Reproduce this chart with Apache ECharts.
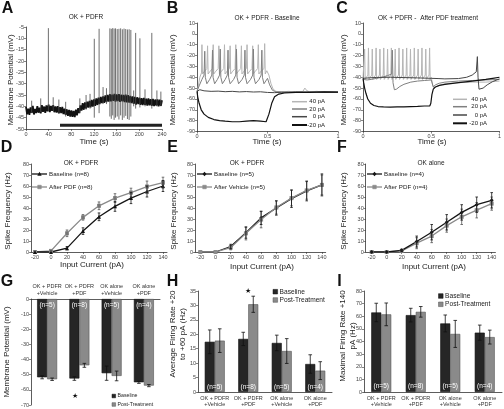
<!DOCTYPE html>
<html><head><meta charset="utf-8">
<script src="https://cdn.jsdelivr.net/npm/echarts@6/dist/echarts.min.js"></script>
<style>html,body{margin:0;padding:0;background:#fff}#c{width:504px;height:409px}</style>
</head><body><div id="c"></div>
<script>
// ---------------- DATA ----------------
// Panel A: membrane potential trace (mV), one sample every 2 s from 0 to 240 s
const aStep = 2;
const aTrace = [-40.2,-43.5,-41.0,-43.8,-40.5,-42.9,-39.8,-43.6,-41.2,-43.0,
 -39.9,-42.8,-40.6,-43.1,-39.5,-42.4,-40.1,-42.9,-39.6,-42.2,
 -39.3,-42.5,-39.8,-42.0,-39.5,-42.6,-40.0,-42.8,-39.9,-43.1,
 -40.4,-43.0,-40.2,-43.4,-41.0,-43.8,-41.3,-44.2,-41.6,-44.5,
 -41.8,-44.6,-42.0,-44.8,-41.5,-44.0,-40.8,-43.0,-39.6,-41.9,
 -38.6,-41.5,-38.3,-41.0,-37.9,-40.6,-37.6,-40.4,-37.2,-40.1,
 -36.9,-39.8,-36.5,-39.4,-36.2,-39.0,-35.8,-38.6,-35.6,-38.5,
 -35.2,-38.1,-34.9,-37.9,-34.6,-37.8,-34.8,-37.6,-34.5,-37.9,
 -34.7,-37.7,-34.6,-38.0,-34.9,-37.8,-35.0,-38.1,-34.8,-38.3,
 -35.1,-38.4,-35.4,-38.6,-35.6,-38.9,-35.8,-39.2,-36.0,-39.0,
 -36.2,-39.3,-36.4,-39.5,-36.3,-39.4,-36.6,-39.7,-36.5,-39.6,
 -36.8,-39.8,-36.7,-39.9,-37.0,-39.7,-36.9,-40.0,-37.1,-39.8,-37.3];
// spikes: [time s, peak mV, trough mV]
const aSpikes = [[39.5,-5.5,-42],[120.5,-10.2,-45],[129,-5.8,-43],[148,-5.6,-44.5],[150.5,-5.8,-45.5],
 [153,-5.5,-44],[155.5,-5.7,-46],[158,-5.6,-45],[161,-5.9,-44.5],[164,-5.8,-45.8],[167,-5.6,-44],
 [170,-6.0,-46],[173,-5.7,-45],[176,-5.9,-44.2],[179,-6.1,-45.6],[182,-6.0,-46],[185,-6.3,-44.5],
 [193.5,-7.6,-41],[201,-10,-40.5],[222,-7.6,-41],
 [10,-37.5,-43],[26,-36.5,-42.5],[48,-36,-42],[58,-37,-43],[70,-38,-44.5],[95,-36.5,-43],
 [106,-35,-41.5],[113,-34.5,-41],[136,-31.5,-39],[142,-32,-39],[190,-33,-40],[210,-32.5,-40],
 [231,-33,-40],[238,-33.5,-40]];
const drugBar = [60, 240];
const drugLevel = -48.4;

// Panel B traces [time s, mV]
const b40 = [[0,-53],[0.008,-49],[0.02,-40],[0.032,-36],[0.035,-10],[0.039,-37],[0.05,-35],[0.07,-32],[0.075,-11],[0.079,-37],[0.09,-35],[0.11,-32],[0.115,-10],[0.119,-37],[0.13,-35],[0.15,-32],[0.155,-11],[0.159,-37],[0.17,-35],[0.19,-32],[0.195,-10],[0.199,-37],[0.21,-35],[0.23,-32],[0.235,-11],[0.239,-37],[0.25,-35],[0.27,-32],[0.275,-10],[0.279,-37],[0.29,-35],[0.31,-32],[0.315,-11],[0.319,-37],[0.33,-35],[0.35,-32],[0.355,-10],[0.359,-37],[0.37,-35],[0.39,-32],[0.395,-11],[0.399,-37],[0.41,-35],[0.43,-32],[0.435,-10],[0.439,-37],[0.45,-35],[0.475,-32],[0.48,-9],[0.484,-37],[0.495,-34],[0.5,-33],[0.51,-38],[0.525,-46],[0.54,-51],[0.56,-53],[0.6,-53.5],[0.65,-53],[0.7,-53.6],[0.75,-53.2],[0.765,-50],[0.78,-52.5],[0.8,-53.5],[0.85,-53],[0.9,-53.6],[0.95,-53.2],[1,-53.5]];
const b20 = [[0,-53],[0.015,-48],[0.035,-42],[0.05,-38],[0.055,-16],[0.059,-40],[0.07,-46],[0.09,-42],[0.105,-38],[0.11,-15],[0.114,-40],[0.125,-46],[0.145,-42],[0.16,-38],[0.165,-14],[0.169,-40],[0.18,-46],[0.2,-42],[0.215,-38],[0.22,-15],[0.224,-40],[0.235,-46],[0.26,-42],[0.275,-38],[0.28,-14],[0.284,-40],[0.295,-46],[0.32,-42],[0.335,-38],[0.34,-15],[0.344,-40],[0.355,-46],[0.38,-42],[0.395,-38],[0.4,-14],[0.404,-40],[0.415,-46],[0.44,-42],[0.455,-38],[0.46,-15],[0.464,-40],[0.475,-46],[0.5,-41],[0.515,-47],[0.535,-52],[0.56,-53.5],[0.62,-53.8],[0.7,-53.2],[0.8,-53.8],[0.9,-53.4],[1,-53.7]];
const b0 = [[0,-53],[0.02,-51.5],[0.05,-52.5],[0.1,-53],[0.15,-52.8],[0.2,-53.3],[0.25,-53],[0.3,-53.5],[0.35,-53.2],[0.4,-53.6],[0.45,-53.4],[0.5,-54],[0.55,-54.2],[0.6,-53.8],[0.7,-54],[0.8,-53.6],[0.9,-54],[1,-53.8]];
const bNeg20 = [[0,-53],[0.005,-58],[0.015,-64],[0.03,-70],[0.05,-74],[0.08,-77],[0.12,-79],[0.16,-80],[0.2,-80.5],[0.25,-81],[0.3,-81],[0.35,-80.5],[0.4,-80],[0.45,-80.5],[0.49,-81],[0.5,-80],[0.51,-74],[0.53,-64],[0.55,-58],[0.58,-55.5],[0.62,-54.5],[0.7,-54],[0.8,-54],[0.9,-53.5],[1,-53.8]];

// Panel C traces [time s, mV]
const c40 = [[0,-41],[0.008,-40],[0.012,-14],[0.016,-42],[0.025,-40],[0.036,-38],[0.04,-13],[0.044,-42],[0.053,-40],[0.064,-38],[0.068,-14],[0.072,-42],[0.081,-40],[0.092,-38],[0.096,-13],[0.1,-42],[0.109,-40],[0.12,-38],[0.124,-14],[0.128,-42],[0.137,-40],[0.148,-38],[0.152,-13],[0.156,-42],[0.165,-40],[0.176,-38],[0.18,-14],[0.184,-42],[0.193,-40],[0.204,-38],[0.208,-13],[0.212,-42],[0.221,-40],[0.232,-38],[0.236,-14],[0.24,-42],[0.249,-40],[0.26,-38],[0.264,-13],[0.268,-42],[0.277,-40],[0.288,-38],[0.292,-14],[0.296,-42],[0.305,-40],[0.316,-38],[0.32,-13],[0.324,-42],[0.333,-40],[0.344,-38],[0.348,-14],[0.352,-42],[0.361,-40],[0.372,-38],[0.376,-13],[0.38,-42],[0.389,-40],[0.4,-38],[0.404,-14],[0.408,-42],[0.417,-40],[0.428,-38],[0.432,-13],[0.436,-42],[0.445,-40],[0.456,-38],[0.46,-14],[0.464,-42],[0.473,-40],[0.484,-38],[0.488,-13],[0.492,-42],[0.5,-40],[0.51,-47],[0.52,-50],[0.54,-48.5],[0.57,-47],[0.6,-46],[0.7,-45],[0.8,-44.5],[0.9,-44.5],[1,-43.5]];
const c20 = [[0,-42],[0.03,-42.5],[0.06,-42],[0.1,-41],[0.14,-40],[0.18,-38.5],[0.21,-37],[0.215,-15],[0.22,-45],[0.23,-51.5],[0.245,-51],[0.27,-48.5],[0.3,-46.5],[0.35,-44.5],[0.4,-43.5],[0.45,-43],[0.5,-42.5],[0.515,-49],[0.53,-47],[0.56,-45.5],[0.6,-44.5],[0.7,-43.5],[0.8,-43],[0.9,-42.5],[1,-42]];
const c0 = [[0,-41],[0.05,-40.5],[0.1,-40.2],[0.2,-40],[0.3,-40.3],[0.4,-40.6],[0.5,-41],[0.55,-41.2],[0.6,-41.5],[0.7,-41.2],[0.76,-40],[0.8,-38],[0.83,-35],[0.838,-21],[0.843,-40],[0.85,-51],[0.86,-52],[0.88,-50],[0.91,-47],[0.95,-44],[1,-41.5]];
const cNeg20 = [[0,-41],[0.005,-45],[0.012,-50],[0.022,-55],[0.035,-60],[0.055,-64],[0.08,-66],[0.11,-67],[0.15,-67.3],[0.2,-67.5],[0.25,-67.3],[0.3,-67.3],[0.35,-67],[0.4,-66.8],[0.45,-66.5],[0.49,-66.3],[0.497,-64],[0.505,-56],[0.515,-51],[0.53,-49],[0.56,-47.5],[0.6,-46.5],[0.7,-45],[0.8,-43.5],[0.9,-42],[0.95,-41],[1,-40]];
const traceLabels = ['40 pA','20 pA','0 pA','-20 pA'];

// Panels D-F: spike frequency (Hz) vs input current (pA)
const currents = [-20,0,20,40,60,80,100,120,140];
const dBase = [0,0,3.5,19,32,41.5,49,55,60];      const dBaseErr = [0,0,1.5,3,3.5,4.5,5,5,5];
const dPdf  = [0,1,17,31.5,42,49,54,59.5,63];     const dPdfErr  = [0,0.5,3,2.5,3.5,4,4,5,5];
const eBase = [0,0,5,17.5,31,40,48.5,55.5,61];    const eBaseErr = [0,0,2,5,6,6.5,8,9,10];
const eVeh  = [0,0,4,17,29.5,40.5,49,56,61];      const eVehErr  = [0,0,2,6,7.5,6,7,8,9];
const fBase = [0,0,1.5,9.5,18,27,36,43,47];       const fBaseErr = [0,0,1,5,7,7,7,7,7];
const fPdf  = [0,0,1,8,14.5,24,32,38,44];         const fPdfErr  = [0,0,0.8,5,6,6,7,7,6];

// Panels G-I: grouped bars
const groups = ['OK + PDFR\n+Vehicle','OK + PDFR\n+PDF','OK alone\n+Vehicle','OK alone\n+PDF'];
const nLabels = ['(n=5)','(n=8)','(n=5)','(n=4)'];
const gBase = [-51.7,-52.5,-49,-55];   const gBaseErr = [1,1.2,4.7,0.7];
const gPost = [-53,-43.8,-50.8,-57.2]; const gPostErr = [0.8,1.3,3.2,0.7];
const hBase = [17.4,18.4,17,9.7];      const hBaseErr = [4.1,2.3,2.7,3.2];
const hPost = [17.8,30.4,14.2,7.4];    const hPostErr = [4.1,2.8,4.3,3.1];
const iBase = [63,60.9,54.3,47];       const iBaseErr = [7.3,5.4,6.7,6];
const iPost = [61.5,63.5,46,43.5];     const iPostErr = [9,4.2,10.7,5.5];

// ---------------- CHART ----------------
const F = '"Liberation Sans", Arial, Helvetica, sans-serif';
const AX = '#333';
const TICKFS = 5.5;
const BLACK = '#151515', GRAY = '#8a8a8a';
const TR = ['#b5b5b5','#808080','#474747','#111111'];

function lbl(extra){ return Object.assign({fontSize:TICKFS,color:'#444',fontFamily:F,margin:2}, extra||{}); }
function tick(extra){ return Object.assign({show:true,length:2,lineStyle:{color:AX,width:0.6}}, extra||{}); }
function vAxis(gi, min, max, interval, extra){
  const o = {type:'value', gridIndex:gi, min:min, max:max,
    axisLine:{show:true,onZero:false,lineStyle:{color:AX,width:0.8}},
    axisTick:tick(), axisLabel:lbl(), splitLine:{show:false}};
  if (interval != null) o.interval = interval;
  return Object.assign(o, extra||{});
}
function cAxis(gi, pos, margin){
  return {type:'category', gridIndex:gi, data:groups, position:pos,
    axisLine:{show:true,lineStyle:{color:AX,width:0.8}}, axisTick:{show:false},
    axisLabel:lbl({interval:0, margin:margin, lineHeight:6.5, color:'#333'}), splitLine:{show:false}};
}
const customX = {customValues: currents};

const grids = [
  {left:26, top:27, width:136, height:102},
  {left:197, top:23, width:141, height:108.5},
  {left:363, top:23, width:139, height:108.5},
  {left:31, top:164, width:136, height:88},
  {left:195, top:164, width:130.7, height:88},
  {left:365.7, top:164, width:129.75, height:88},
  {left:31, top:299, width:129, height:106},
  {left:198, top:291, width:134, height:101},
  {left:364, top:291, width:138, height:101}
];

const xAxes = [
  vAxis(0, 0, 240, 40),
  vAxis(1, 0, 1, 0.5),
  vAxis(2, 0, 1, 0.5),
  vAxis(3, -25, 145, null, {axisTick:tick(customX), axisLabel:lbl(customX)}),
  vAxis(4, -27, 145, null, {axisTick:tick(customX), axisLabel:lbl(customX)}),
  vAxis(5, -28, 145, null, {axisTick:tick(customX), axisLabel:lbl(customX)}),
  cAxis(6, 'top', 2.5),
  cAxis(7, 'bottom', 3),
  cAxis(8, 'bottom', 3)
];
const yAxes = [
  vAxis(0, -50, -5, 5),
  vAxis(1, -90, 10, 10),
  vAxis(2, -90, 10, 10),
  vAxis(3, 0, 80, 10),
  vAxis(4, 0, 80, 10),
  vAxis(5, 0, 80, 10),
  vAxis(6, -70, 0, 10),
  vAxis(7, 0, 35, 5),
  vAxis(8, 0, 80, 10)
];

function trace(ai, data, color, w){
  return {type:'line', xAxisIndex:ai, yAxisIndex:ai, data:data, showSymbol:false, symbol:'none',
    lineStyle:{color:color, width:w}, silent:true, z:2};
}
function curve(ai, ys, color, symbol){
  return {type:'line', xAxisIndex:ai, yAxisIndex:ai, data:currents.map((x,i)=>[x,ys[i]]),
    symbol:symbol, symbolSize:4, itemStyle:{color:color}, lineStyle:{color:color,width:1.3}, z:3, silent:true};
}
function errBars(ai, xs, ys, es, color, dx, cap){
  return {type:'custom', xAxisIndex:ai, yAxisIndex:ai, silent:true, z:4,
    data: xs.map((x,i)=>[x, ys[i], es[i]]),
    renderItem:function(p, api){
      const x = api.value(0), y = api.value(1), e = api.value(2);
      if (!e) return {type:'group', children:[]};
      const a = api.coord([x, y+e]), b = api.coord([x, y-e]);
      const px = a[0] + dx;
      const st = {stroke:color, lineWidth:0.8};
      return {type:'group', children:[
        {type:'line', shape:{x1:px,y1:a[1],x2:px,y2:b[1]}, style:st},
        {type:'line', shape:{x1:px-cap,y1:a[1],x2:px+cap,y2:a[1]}, style:st},
        {type:'line', shape:{x1:px-cap,y1:b[1],x2:px+cap,y2:b[1]}, style:st}]};
    }};
}
function bars(ai, vals, color, border){
  return {type:'bar', xAxisIndex:ai, yAxisIndex:ai, data:vals, barWidth:10, barGap:'0%',
    itemStyle:{color:color, borderColor:border, borderWidth:0.6}, silent:true, z:2};
}
function nText(ai, yv){
  return {type:'custom', xAxisIndex:ai, yAxisIndex:ai, silent:true, z:10,
    data: groups.map((g,i)=>[i, yv]),
    renderItem:function(p, api){
      const c = api.coord([api.value(0), api.value(1)]);
      return {type:'text', x:c[0], y:c[1], style:{text:nLabels[p.dataIndex], fill:'#fff',
        fontSize:6.5, fontFamily:F, align:'center', verticalAlign:'middle'}};
    }};
}

const series = [
  // A
  trace(0, aTrace.map((v,i)=>[i*aStep, v]), '#111', 1.8),
  {type:'custom', xAxisIndex:0, yAxisIndex:0, silent:true, z:3, data:aSpikes,
    renderItem:function(p, api){
      const a = api.coord([api.value(0), api.value(1)]), b = api.coord([api.value(0), api.value(2)]);
      return {type:'line', shape:{x1:a[0],y1:a[1],x2:b[0],y2:b[1]}, style:{stroke:'#4a4a4a', lineWidth:0.8}};
    }},
  trace(0, drugBar.map(t=>[t, drugLevel]), '#222', 3),
  // B
  trace(1, b40, TR[0], 1), trace(1, b20, TR[1], 1), trace(1, b0, TR[2], 1), trace(1, bNeg20, TR[3], 1.2),
  // C
  trace(2, c40, TR[0], 1), trace(2, c20, TR[1], 1), trace(2, c0, TR[2], 1), trace(2, cNeg20, TR[3], 1.2),
  // D
  errBars(3, currents, dPdf, dPdfErr, '#555', 0, 1.3), errBars(3, currents, dBase, dBaseErr, '#111', 0, 1.3),
  curve(3, dPdf, GRAY, 'rect'), curve(3, dBase, BLACK, 'triangle'),
  // E
  errBars(4, currents, eVeh, eVehErr, '#555', 0, 1.3), errBars(4, currents, eBase, eBaseErr, '#111', 0, 1.3),
  curve(4, eBase, BLACK, 'diamond'), curve(4, eVeh, GRAY, 'rect'),
  // F
  errBars(5, currents, fPdf, fPdfErr, '#555', 0, 1.3), errBars(5, currents, fBase, fBaseErr, '#111', 0, 1.3),
  curve(5, fPdf, GRAY, 'rect'), curve(5, fBase, BLACK, 'diamond'),
  // G
  bars(6, gBase, '#262626', '#111'), bars(6, gPost, GRAY, '#555'),
  errBars(6, [0,1,2,3], gBase, gBaseErr, '#111', -5, 1.8), errBars(6, [0,1,2,3], gPost, gPostErr, '#111', 5, 1.8),
  nText(6, -4),
  // H
  bars(7, hBase, '#262626', '#111'), bars(7, hPost, GRAY, '#555'),
  errBars(7, [0,1,2,3], hBase, hBaseErr, '#111', -5, 1.8), errBars(7, [0,1,2,3], hPost, hPostErr, '#111', 5, 1.8),
  nText(7, 1.8),
  // I
  bars(8, iBase, '#262626', '#111'), bars(8, iPost, GRAY, '#555'),
  errBars(8, [0,1,2,3], iBase, iBaseErr, '#111', -5, 1.8), errBars(8, [0,1,2,3], iPost, iPostErr, '#111', 5, 1.8),
  nText(8, 4.2)
];

// ---------------- ANNOTATIONS ----------------
const G = [];
function txt(s, x, y, size, opt){
  opt = opt || {};
  G.push({type:'text', x:x, y:y, rotation:opt.rot||0, silent:true, z:100,
    style:{text:s, fontSize:size, fontFamily:F, fontWeight:opt.bold?'bold':'normal', fill:opt.fill||'#222',
      align:opt.align||'center', verticalAlign:'middle', lineHeight:opt.lh||size*1.2}});
}
function seg(x1,y1,x2,y2,color,w){
  G.push({type:'line', silent:true, z:100, shape:{x1,y1,x2,y2}, style:{stroke:color, lineWidth:w}});
}
function box(x,y,w,h,fill,stroke){
  G.push({type:'rect', silent:true, z:100, shape:{x,y,width:w,height:h}, style:{fill:fill, stroke:stroke||fill, lineWidth:0.5}});
}
function poly(pts, fill){ G.push({type:'polygon', silent:true, z:101, shape:{points:pts}, style:{fill:fill}}); }

// panel letters
[['A',7.5,8.5],['B',172.5,8.5],['C',342,8.5],['D',6.5,148],['E',172.5,148],['F',342,148],['G',7,281.5],['H',172.5,281.5],['I',339.5,281.5]]
  .forEach(l=>txt(l[0], l[1], l[2], 16, {bold:true, fill:'#111'}));
// titles
txt('OK + PDFR', 86, 17.5, 6.5);
txt('OK + PDFR - Baseline', 267, 18.5, 6.5);
txt('OK + PDFR -  After PDF treatment', 428, 18.5, 6.5);
txt('OK + PDFR', 81, 163, 6.5);
txt('OK + PDFR', 247, 163, 6.5);
txt('OK alone', 431, 163, 6.5);
// axis titles
const R = Math.PI/2;
txt('Membrane Potential (mV)', 11, 80, 8, {rot:R});
txt('Membrane Potential (mV)', 173, 80, 8, {rot:R});
txt('Membrane Potential (mV)', 344, 80, 8, {rot:R});
txt('Time (s)', 94, 142, 8); txt('Time (s)', 267, 142, 8); txt('Time (s)', 432, 142, 8);
txt('Spike Frequency (Hz)', 8, 211, 8, {rot:R});
txt('Spike Frequency (Hz)', 174, 211, 8, {rot:R});
txt('Spike Frequency (Hz)', 343.5, 211, 8, {rot:R});
txt('Input Current (pA)', 92, 265, 8); txt('Input Current (pA)', 262, 267, 8); txt('Input Current (pA)', 434, 267, 8);
txt('Membrane Potential (mV)', 7, 352, 8, {rot:R});
txt('Average Firing Rate +20\nto +60 pA (Hz)', 178, 334, 8, {rot:R, lh:10});
txt('Maximal Firing Rate +140\npA (Hz)', 348, 336, 8, {rot:R, lh:10});
// B / C trace legends
[[101.7,109,116.7,125],[99.3,106.7,115,123.3]].forEach((rows, k)=>{
  const x1 = k ? 453 : 292, x2 = k ? 467 : 307, tx = k ? 487 : 325;
  rows.forEach((y,i)=>{ seg(x1,y,x2,y,TR[i], i===3?2:1.5); txt(traceLabels[i], tx, y, 6, {align:'right'}); });
});
// D/E/F legends
function lineLegend(x1, rows){
  rows.forEach(r=>{
    const y = r.y, xm = x1 + 7.5;
    seg(x1, y, x1+15, y, r.color, 1.3);
    if (r.sym==='triangle') poly([[xm,y-2.2],[xm+2.2,y+1.8],[xm-2.2,y+1.8]], r.color);
    else if (r.sym==='diamond') poly([[xm,y-2.3],[xm+2,y],[xm,y+2.3],[xm-2,y]], r.color);
    else box(xm-1.8, y-1.8, 3.6, 3.6, r.color);
    txt(r.t, x1+17, y, 6.2, {align:'left'});
  });
}
lineLegend(32, [{y:174,color:BLACK,sym:'triangle',t:'Baseline (n=8)'},{y:187,color:GRAY,sym:'rect',t:'After PDF (n=8)'}]);
lineLegend(197, [{y:174,color:BLACK,sym:'diamond',t:'Baseline (n=5)'},{y:187,color:GRAY,sym:'rect',t:'After Vehicle (n=5)'}]);
lineLegend(367, [{y:174,color:BLACK,sym:'diamond',t:'Baseline (n=4)'},{y:187,color:GRAY,sym:'rect',t:'After PDF (n=4)'}]);
// bar legends
function barLegend(x, y1, y2, s, fs){
  box(x, y1-s/2, s, s, '#262626', '#111'); txt('Baseline', x+s+2, y1, fs, {align:'left'});
  box(x, y2-s/2, s, s, GRAY, '#555'); txt('Post-Treatment', x+s+2, y2, fs, {align:'left'});
}
barLegend(112, 396, 404.5, 3.6, 5.2);
barLegend(273, 291.7, 300, 4.6, 6.6);
barLegend(438.5, 296, 304.3, 4.6, 6.6);
// significance stars
txt('\u2605', 75, 396, 7, {fill:'#111'});
txt('\u2605', 248, 291, 7, {fill:'#111'});

const chart = echarts.init(document.getElementById('c'), null, {renderer:'canvas'});
chart.setOption({animation:false, backgroundColor:'#fff', textStyle:{fontFamily:F},
  grid:grids, xAxis:xAxes, yAxis:yAxes, series:series, graphic:G});
</script></body></html>
